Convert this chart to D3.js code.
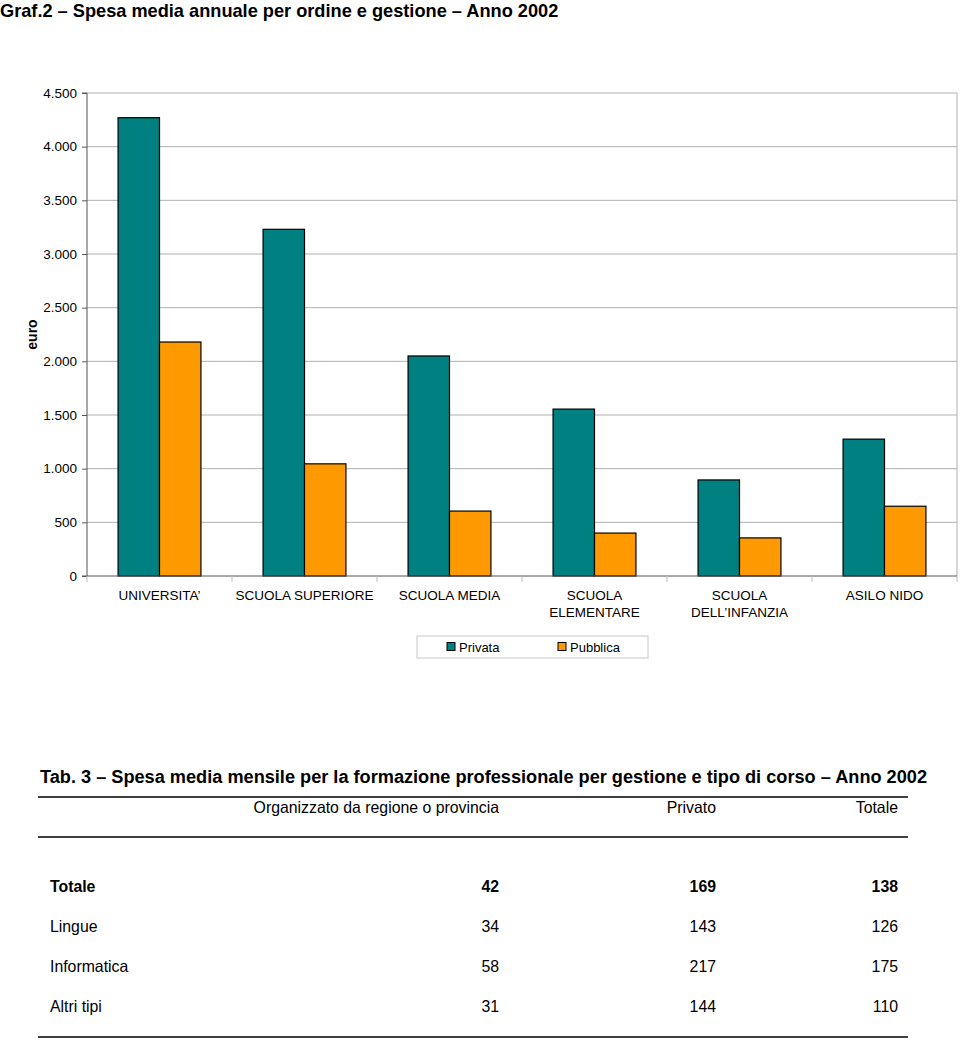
<!DOCTYPE html>
<html>
<head>
<meta charset="utf-8">
<script src="https://cdn.jsdelivr.net/npm/d3@7"></script>
<style>
  body { margin: 0; background: #fff; }
  svg { display: block; font-family: "Liberation Sans", Arial, sans-serif; }
</style>
</head>
<body>
<div id="chart"></div>
<script>
// chart data
const categories = ['UNIVERSITA’', 'SCUOLA SUPERIORE', 'SCUOLA MEDIA', 'SCUOLA ELEMENTARE', 'SCUOLA DELL’INFANZIA', 'ASILO NIDO'];
const labelLines = [['UNIVERSITA’'], ['SCUOLA SUPERIORE'], ['SCUOLA MEDIA'], ['SCUOLA', 'ELEMENTARE'], ['SCUOLA', 'DELL’INFANZIA'], ['ASILO NIDO']];
const seriesNames = ['Privata', 'Pubblica'];
const privata = [4270, 3230, 2050, 1555, 895, 1275];
const pubblica = [2180, 1045, 605, 400, 355, 650];
const yTicks = [0, 500, 1000, 1500, 2000, 2500, 3000, 3500, 4000, 4500];

// table data
const tableCols = ['Organizzato da regione o provincia', 'Privato', 'Totale'];
const tableRows = ['Totale', 'Lingue', 'Informatica', 'Altri tipi'];
const colRegione = [42, 34, 58, 31];
const colPrivato = [169, 143, 217, 144];
const colTotale = [138, 126, 175, 110];

const colors = ['#008080', '#ff9900'];
const W = 960, H = 1041;
const squeeze = 0.96; // slight horizontal squeeze for the table font

const svg = d3.select('#chart').append('svg')
  .attr('width', W).attr('height', H);

// title
svg.append('text')
  .attr('x', 0).attr('y', 17)
  .attr('font-size', 18.2).attr('font-weight', 'bold')
  .text('Graf.2 – Spesa media annuale per ordine e gestione – Anno 2002');

const plot = { left: 87, right: 957, top: 93, bottom: 576 };

const x = d3.scaleBand().domain(categories).range([plot.left, plot.right]);
const x1 = d3.scaleBand().domain(seriesNames).range([0, x.bandwidth()]).paddingInner(0).paddingOuter(0.75);
const y = d3.scaleLinear().domain([0, 4500]).range([plot.bottom, plot.top]);

// gridlines
svg.append('g').selectAll('line')
  .data(yTicks.filter(d => d > 0))
  .enter().append('line')
  .attr('x1', plot.left).attr('x2', plot.right)
  .attr('y1', d => y(d)).attr('y2', d => y(d))
  .attr('stroke', '#b0b0b0').attr('stroke-width', 1);

// right border of plot area
svg.append('line')
  .attr('x1', plot.right).attr('x2', plot.right)
  .attr('y1', plot.top).attr('y2', plot.bottom)
  .attr('stroke', '#b0b0b0');

// y axis
const yAxis = svg.append('g')
  .attr('transform', `translate(${plot.left},0)`)
  .call(d3.axisLeft(y).tickValues(yTicks).tickSize(5).tickPadding(5)
    .tickFormat(d => d3.format(',')(d).replace(/,/g, '.')));
yAxis.select('.domain').attr('stroke', '#555').attr('d', `M-5,${plot.top}H0V${plot.bottom}H-5`);
yAxis.selectAll('.tick line').attr('stroke', '#555');
yAxis.selectAll('text').attr('font-size', 13.5).attr('font-family', '"Liberation Sans", Arial, sans-serif').attr('fill', '#000');

svg.append('text')
  .attr('transform', `translate(37,${(plot.top + plot.bottom) / 2}) rotate(-90)`)
  .attr('text-anchor', 'middle')
  .attr('font-size', 14).attr('font-weight', 'bold')
  .text('euro');

// bars
const groups = svg.append('g').selectAll('g')
  .data(categories)
  .enter().append('g')
  .attr('transform', d => `translate(${x(d)},0)`);

groups.selectAll('rect')
  .data((d, i) => [privata[i], pubblica[i]].map((v, j) => ({ key: seriesNames[j], v, j })))
  .enter().append('rect')
  .attr('x', d => x1(d.key))
  .attr('width', x1.bandwidth())
  .attr('y', d => y(d.v))
  .attr('height', d => y(0) - y(d.v))
  .attr('fill', d => colors[d.j])
  .attr('stroke', '#000').attr('stroke-width', 1.2);

// x axis
svg.append('line')
  .attr('x1', plot.left).attr('x2', plot.right)
  .attr('y1', plot.bottom).attr('y2', plot.bottom)
  .attr('stroke', '#555');
svg.append('g').selectAll('line')
  .data(d3.range(categories.length + 1))
  .enter().append('line')
  .attr('x1', i => plot.left + i * x.step()).attr('x2', i => plot.left + i * x.step())
  .attr('y1', plot.bottom).attr('y2', plot.bottom + 6)
  .attr('stroke', '#bbb');

const xl = svg.append('g').selectAll('text')
  .data(categories)
  .enter().append('text')
  .attr('x', d => x(d) + x.bandwidth() / 2)
  .attr('y', 600)
  .attr('text-anchor', 'middle')
  .attr('font-size', 13.5);
xl.selectAll('tspan')
  .data((d, i) => labelLines[i])
  .enter().append('tspan')
  .attr('x', function() { return this.parentNode.getAttribute('x'); })
  .attr('dy', (d, i) => i === 0 ? 0 : 17)
  .text(d => d);

// legend
const lg = svg.append('g').attr('transform', 'translate(417,636)');
lg.append('rect').attr('width', 231).attr('height', 22)
  .attr('fill', '#fff').attr('stroke', '#c8c8c8');
const legendX = [30, 141];
seriesNames.forEach((s, i) => {
  lg.append('rect').attr('x', legendX[i]).attr('y', 6.5).attr('width', 8).attr('height', 8)
    .attr('fill', colors[i]).attr('stroke', '#000');
  lg.append('text').attr('x', legendX[i] + 12).attr('y', 15.5)
    .attr('font-size', 13).text(s);
});

// table
function tableText(g, x0, y0, txt, weight, anchor) {
  return g.append('text')
    .attr('transform', `translate(${x0},${y0}) scale(${squeeze},1)`)
    .attr('text-anchor', anchor || 'start')
    .attr('font-size', 16.5).attr('font-weight', weight || 'normal')
    .text(txt);
}

svg.append('text')
  .attr('x', 40).attr('y', 783)
  .attr('font-size', 17.5).attr('font-weight', 'bold')
  .attr('textLength', 887).attr('lengthAdjust', 'spacingAndGlyphs')
  .text('Tab. 3 – Spesa media mensile per la formazione professionale per gestione e tipo di corso – Anno 2002');

const hr = [797, 837, 1037];
svg.append('g').selectAll('line')
  .data(hr).enter().append('line')
  .attr('x1', 38).attr('x2', 908)
  .attr('y1', d => d).attr('y2', d => d)
  .attr('stroke', '#000').attr('stroke-width', 1.3);

const colRight = [499, 716, 898];
const tbl = svg.append('g');
tableCols.forEach((c, i) => tableText(tbl, colRight[i], 813, c, 'normal', 'end'));

const rowY = d3.scalePoint().domain(tableRows).range([892, 1012]);
const cols = [colRegione, colPrivato, colTotale];
tableRows.forEach((r, i) => {
  const bold = i === 0 ? 'bold' : 'normal';
  tableText(tbl, 50, rowY(r), r, bold);
  cols.forEach((c, j) => tableText(tbl, colRight[j], rowY(r), c[i], bold, 'end'));
});
</script>
</body>
</html>
